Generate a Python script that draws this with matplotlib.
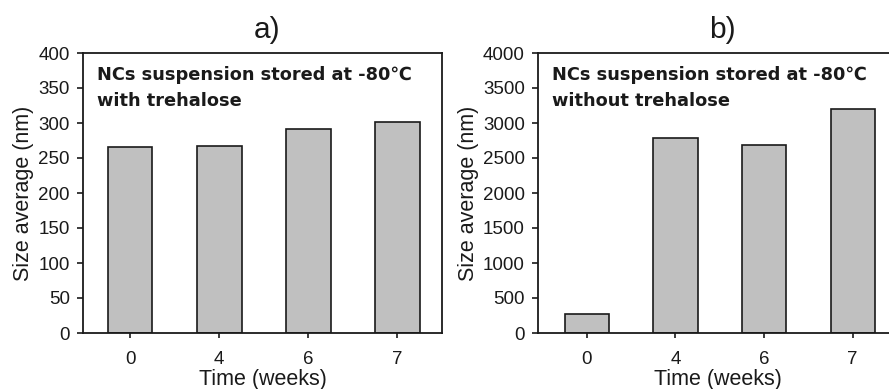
import numpy as np
import matplotlib.pyplot as plt

weeks = ["0", "4", "6", "7"]
size_with = [265, 267, 291, 301]
size_without = [265, 2780, 2690, 3200]

plt.rcParams["font.family"] = ["Liberation Sans", "DejaVu Sans"]

fig = plt.figure(figsize=(8.89, 3.89), dpi=100)
W, H = 889, 389

def px_axes(x0, y0, x1, y1):
    return fig.add_axes([x0 / W, 1 - y1 / H, (x1 - x0) / W, (y1 - y0) / H])

ax1 = px_axes(83, 53, 442, 333)
ax2 = px_axes(538, 53, 897, 333)

panels = [
    (ax1, size_with, 400, 50, "a)", "NCs suspension stored at -80\u2103\nwith trehalose", -0.53),
    (ax2, size_without, 4000, 500, "b)", "NCs suspension stored at -80\u2103\nwithout trehalose", -0.55),
]

for ax, vals, ymax, ystep, title, note, xl in panels:
    x = np.arange(len(weeks))
    ax.bar(x, vals, width=0.5, color="#c0c0c0", edgecolor="#1a1a1a", linewidth=1.2)
    ax.set_xlim(xl, 3.5)
    ax.set_ylim(0, ymax)
    ax.set_yticks(np.arange(0, ymax + 1, ystep))
    ax.set_xticks(x)
    ax.set_xticklabels(weeks)
    ax.tick_params(axis="both", labelsize=13.5, direction="out", width=1.2, colors="#1a1a1a")
    ax.tick_params(axis="y", length=4.5, pad=5)
    ax.tick_params(axis="x", length=3.5, pad=9.5)
    for s in ax.spines.values():
        s.set_linewidth(1.3)
        s.set_color("#1a1a1a")
    ax.set_xlabel("Time (weeks)", fontsize=15.5, labelpad=0.5, color="#1a1a1a")
    ax.set_ylabel("Size average (nm)", fontsize=15.5, labelpad=3, color="#1a1a1a")
    ax.set_title(title, fontsize=21.5, pad=11, color="#1a1a1a", x=0.513)
    ax.text(0.04, 0.955, note, transform=ax.transAxes, ha="left", va="top",
            fontsize=12.8, fontweight="bold", family="DejaVu Sans",
            linespacing=1.6, color="#1a1a1a")

fig.savefig("out.png", dpi=100)
